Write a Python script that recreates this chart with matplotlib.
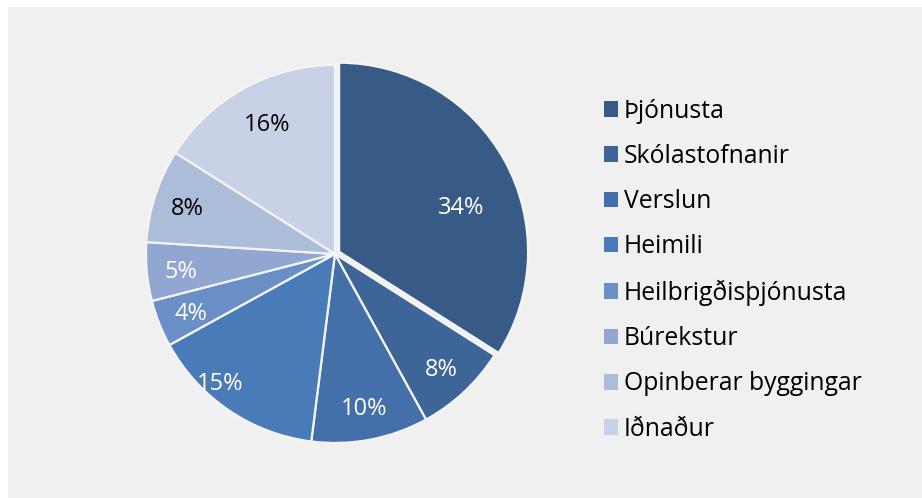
import matplotlib
matplotlib.use("Agg")
import matplotlib.pyplot as plt
from matplotlib.patches import Patch, Rectangle

categories = ["Þjónusta", "Skólastofnanir", "Verslun", "Heimili",
              "Heilbrigðisþjónusta", "Búrekstur", "Opinberar byggingar", "Iðnaður"]
values = [34, 8, 10, 15, 4, 5, 8, 16]
colors = ["#375a87", "#3d6598", "#4370a8", "#4a7bb9", "#6a8fc6",
          "#91a7d1", "#acbdda", "#c8d1e5"]
label_colors = ["white", "white", "white", "white", "white", "white", "black", "black"]

plt.rcParams['font.family'] = ['Open Sans', 'DejaVu Sans']

fig = plt.figure(figsize=(9.22, 4.98), dpi=100)
fig.patch.set_facecolor("white")
fig.patches.append(Rectangle((8/922, 0), 1, 1 - 7/498, transform=fig.transFigure,
                             facecolor="#f0f0f0", edgecolor="none", zorder=-10))

ax = fig.add_axes([0.3633 - 0.205, 0.49 - 0.3795, 0.41, 0.759])
explode = [0.025, 0, 0, 0, 0, 0, 0, 0]
wedges, texts, autotexts = ax.pie(
    values, colors=colors, startangle=90, counterclock=False, explode=explode,
    autopct=lambda p: f"{p:.0f}%", pctdistance=0.82,
    wedgeprops=dict(edgecolor="#f4f4f4", linewidth=1.6),
    textprops=dict(fontsize=17))
for t, c in zip(autotexts, label_colors):
    t.set_color(c)
    t.set_va("center_baseline")
autotexts[0].set_position((0.667, 0.26))
autotexts[3].set_position((-0.61, -0.67))
autotexts[7].set_position((-0.36, 0.70))
ax.set_xlim(-1, 1)
ax.set_ylim(-1, 1)
ax.set_aspect("equal")
ax.axis("off")

handles = [Patch(facecolor=c, edgecolor="none") for c in colors]
leg = fig.legend(handles, categories, loc="upper left", bbox_to_anchor=(0.644, 0.822),
                 frameon=False, fontsize=17.8, handlelength=0.6, handleheight=0.6,
                 handletextpad=0.22, labelspacing=0.82, borderaxespad=0)
fig.savefig("out.png", dpi=100, facecolor=fig.get_facecolor())
